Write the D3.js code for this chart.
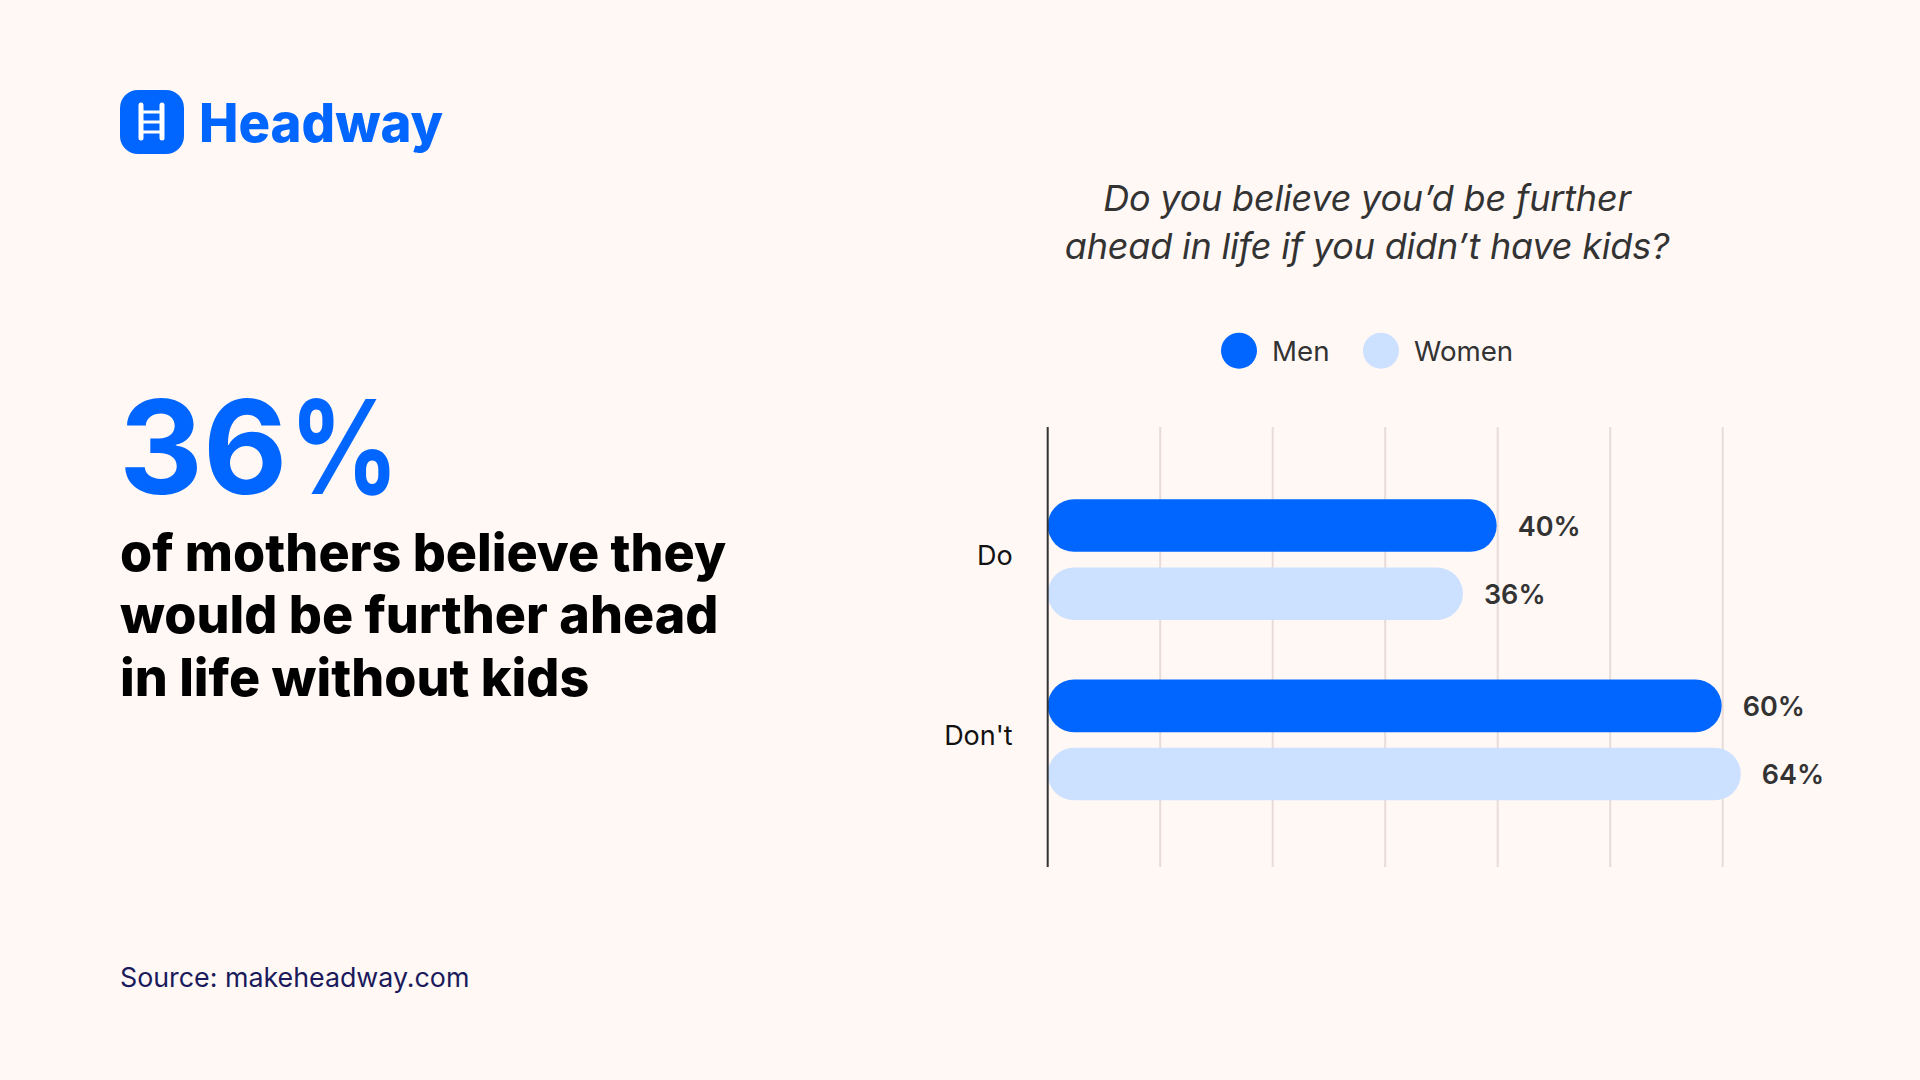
<!DOCTYPE html>
<html>
<head>
<meta charset="utf-8">
<script src="https://cdn.jsdelivr.net/npm/d3@7"></script>
<style>
  html, body { margin: 0; padding: 0; background: #fff8f5; }
  svg { display: block; }
  text { font-family: Inter, sans-serif; }
</style>
</head>
<body>
<div id="chart"></div>
<script>
// DATA
const answers = ["Do", "Don't"];
const genders = ["Men", "Women"];
const menValues = [40, 60];
// bar lengths as drawn in the picture (they do not quite follow the printed labels)
const womenValues = [37, 61.7];
const menLabels = ["40%", "60%"];
const womenLabels = ["36%", "64%"];
const gridTicks = [0, 10, 20, 30, 40, 50, 60];

const questionLines = ["Do you believe you’d be further", "ahead in life if you didn’t have kids?"];
const headlineLines = ["of mothers believe they", "would be further ahead", "in life without kids"];

const blue = "#0066ff";
const lightBlue = "#cce0ff";
const color = d3.scaleOrdinal(genders, [blue, lightBlue]);

const svg = d3.select("#chart").append("svg")
    .attr("width", 1920)
    .attr("height", 1080);

svg.append("rect")
    .attr("width", 1920)
    .attr("height", 1080)
    .attr("fill", "#fff8f5");

// LOGO
const logo = svg.append("g");
logo.append("rect")
    .attr("x", 120).attr("y", 90)
    .attr("width", 64).attr("height", 64)
    .attr("rx", 18)
    .attr("fill", blue);
logo.selectAll("line.rail")
    .data([141, 162])
    .join("line")
    .attr("class", "rail")
    .attr("x1", d => d).attr("x2", d => d)
    .attr("y1", 105).attr("y2", 138)
    .attr("stroke", "#fff")
    .attr("stroke-width", 5)
    .attr("stroke-linecap", "round");
logo.selectAll("line.rung")
    .data([112, 122, 132])
    .join("line")
    .attr("class", "rung")
    .attr("x1", 141).attr("x2", 162)
    .attr("y1", d => d).attr("y2", d => d)
    .attr("stroke", "#fff")
    .attr("stroke-width", 3);
logo.append("text")
    .attr("x", 199)
    .attr("y", 141.7)
    .attr("fill", blue)
    .attr("font-size", 54)
    .attr("font-weight", 800)
    .attr("textLength", 244)
    .attr("lengthAdjust", "spacingAndGlyphs")
    .text("Headway");

// LEFT COLUMN
const bigNumber = svg.append("text")
    .attr("x", 119)
    .attr("y", 494)
    .attr("fill", blue)
    .attr("font-size", 130)
    .attr("font-weight", 700)
    .text("36");
bigNumber.append("tspan")
    .attr("dx", 2)
    .attr("textLength", 110)
    .attr("lengthAdjust", "spacingAndGlyphs")
    .text("%");

svg.selectAll("text.headline")
    .data(headlineLines)
    .join("text")
    .attr("class", "headline")
    .attr("x", 120)
    .attr("y", (d, i) => 570.7 + i * 62.7)
    .attr("fill", "#000")
    .attr("font-size", 52)
    .attr("font-weight", 800)
    .text(d => d);

svg.append("text")
    .attr("x", 120)
    .attr("y", 987)
    .attr("fill", "#1a1a5c")
    .attr("font-size", 26.8)
    .text("Source: makeheadway.com");

// QUESTION
svg.selectAll("text.question")
    .data(questionLines)
    .join("text")
    .attr("class", "question")
    .attr("x", 1367)
    .attr("y", (d, i) => 211.4 + i * 47.6)
    .attr("text-anchor", "middle")
    .attr("fill", "#333")
    .attr("font-size", 36)
    .attr("letter-spacing", -0.2)
    .attr("font-style", "italic")
    .text(d => d);

// LEGEND
const legendX = d3.scaleOrdinal(genders, [1239, 1381]);
const legend = svg.selectAll("g.legend")
    .data(genders)
    .join("g")
    .attr("class", "legend")
    .attr("transform", d => `translate(${legendX(d)},350.7)`);
legend.append("circle")
    .attr("r", 18)
    .attr("fill", d => color(d));
legend.append("text")
    .attr("x", 33)
    .attr("y", 10)
    .attr("fill", "#333")
    .attr("font-size", 27.7)
    .text(d => d);

// SCALES
const x = d3.scaleLinear().domain([0, 60]).range([1047.7, 1722.7]);
const y = d3.scaleBand()
    .domain(answers)
    .range([427, 867])
    .paddingInner(0.33)
    .paddingOuter(0.385)
    .align(0.52);
const ySub = d3.scaleBand()
    .domain(genders)
    .range([0, y.bandwidth()])
    .paddingInner(0.228);

// GRID
svg.selectAll("line.grid")
    .data(gridTicks.slice(1))
    .join("line")
    .attr("class", "grid")
    .attr("x1", d => x(d)).attr("x2", d => x(d))
    .attr("y1", 427).attr("y2", 867)
    .attr("stroke", "#e8dcd8")
    .attr("stroke-width", 2);

// BARS
const rows = answers.flatMap((a, i) => [
    { answer: a, gender: "Men", value: menValues[i], label: menLabels[i] },
    { answer: a, gender: "Women", value: womenValues[i], label: womenLabels[i] }
]);

svg.selectAll("rect.bar")
    .data(rows)
    .join("rect")
    .attr("class", "bar")
    .attr("x", x(0))
    .attr("y", d => y(d.answer) + ySub(d.gender))
    .attr("width", d => x(d.value) - x(0) - 1)
    .attr("height", ySub.bandwidth())
    .attr("rx", ySub.bandwidth() / 2)
    .attr("fill", d => color(d.gender));

svg.selectAll("text.value")
    .data(rows)
    .join("text")
    .attr("class", "value")
    .attr("x", d => x(d.value) + 20)
    .attr("y", d => y(d.answer) + ySub(d.gender) + ySub.bandwidth() / 2)
    .attr("dy", "0.38em")
    .attr("fill", "#333")
    .attr("font-size", 27)
    .attr("font-weight", 600)
    .text(d => d.label);

// AXIS
const axis = svg.append("g")
    .attr("transform", `translate(${x(0)},-3.5)`)
    .call(d3.axisLeft(y).tickSize(0).tickPadding(35));
axis.select(".domain").remove();
axis.selectAll("text")
    .attr("fill", "#111")
    .attr("font-size", 27)
    .style("font-family", "Inter, sans-serif");

svg.append("line")
    .attr("x1", x(0)).attr("x2", x(0))
    .attr("y1", 427).attr("y2", 867)
    .attr("stroke", "#333")
    .attr("stroke-width", 2);
</script>
</body>
</html>
